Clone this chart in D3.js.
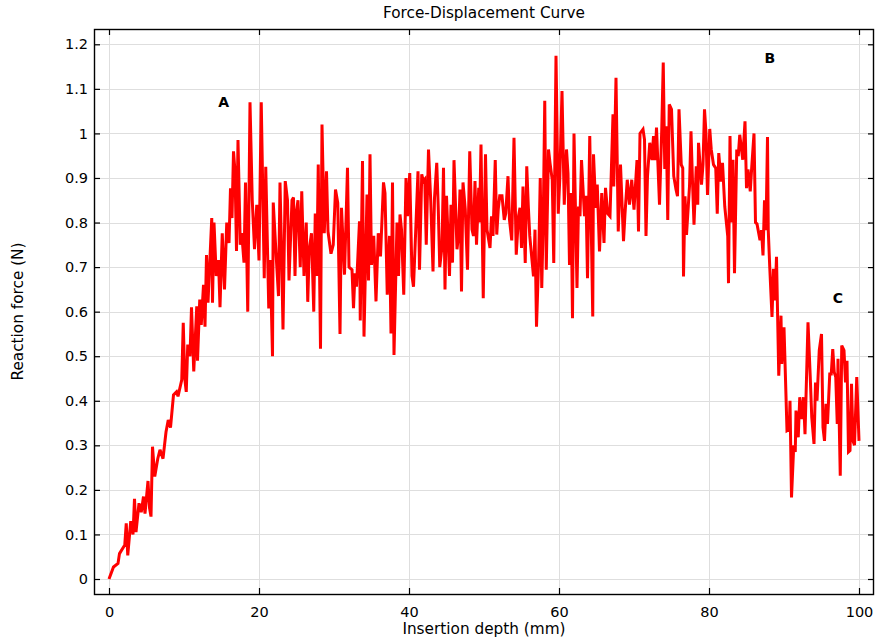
<!DOCTYPE html>
<html><head><meta charset="utf-8">
<script src="https://cdn.jsdelivr.net/npm/d3@7"></script>
<style>
html,body{margin:0;padding:0;background:#fff;}
svg{display:block;}
text{font-family:"DejaVu Sans",sans-serif;fill:#000;}
</style></head>
<body>
<svg id="chart" width="877" height="642"></svg>
<script>
// ---- data (insertion depth mm, reaction force N) ----
const riseSegment = [[0,0],[0.6,0.027],[1.2,0.035],[1.4,0.057],[2.1,0.076],[2.3,0.125],[2.5,0.053],[2.9,0.13],[3.2,0.1],[3.4,0.18],[3.6,0.105],[4.0,0.17],[4.3,0.15],[4.6,0.185],[4.8,0.147],[5.2,0.22],[5.4,0.16],[5.6,0.14],[5.8,0.297],[6.1,0.23],[6.5,0.27],[6.8,0.29],[7.2,0.27],[7.6,0.33],[7.9,0.357],[8.2,0.34],[8.6,0.413],[9.0,0.42],[9.2,0.41],[9.7,0.447],[9.9,0.575],[10.1,0.45],[10.3,0.42],[10.5,0.526],[10.8,0.5],[11.0,0.61],[11.3,0.466],[11.7,0.612],[11.8,0.49],[12.1,0.627],[12.3,0.57]];
const peakASegment = [[12.6,0.66],[12.8,0.566],[13.0,0.727],[13.2,0.62],[13.7,0.81],[13.8,0.62],[14.0,0.8],[14.3,0.68],[14.6,0.716],[14.8,0.61],[15.1,0.776],[15.4,0.65],[15.7,0.8],[16.0,0.754],[16.2,0.877],[16.4,0.81],[16.6,0.96],[16.8,0.915],[17.0,0.736],[17.2,0.985],[17.5,0.75],[17.7,0.776],[18.0,0.71],[18.2,0.89],[18.5,0.6],[18.8,1.07],[19.1,0.85],[19.4,0.74],[19.7,0.84],[20.0,0.715],[20.3,1.07],[20.7,0.675],[20.9,0.925],[21.3,0.607],[21.5,0.716],[21.8,0.5],[21.9,0.845],[22.3,0.722],[22.6,0.635],[22.8,0.89],[23.0,0.74],[23.2,0.56],[23.5,0.893],[23.8,0.85],[24.0,0.67],[24.4,0.85],[24.6,0.856],[24.8,0.68],[25.0,0.825],[25.2,0.85],[25.5,0.7],[25.7,0.87],[26.0,0.68],[26.3,0.8],[26.5,0.622],[26.7,0.74],[27.0,0.776],[27.3,0.6],[27.5,0.82],[27.7,0.68],[27.9,0.93],[28.2,0.517],[28.4,1.02],[28.7,0.776],[29.0,0.915]];
const plateauSegment1 = [[29.2,0.78],[29.6,0.73],[29.9,0.75],[30.2,0.874],[30.5,0.844],[30.8,0.55],[31.0,0.833],[31.4,0.683],[31.8,0.923],[32.0,0.7],[32.4,0.694],[32.6,0.608],[32.8,0.686],[33.0,0.656],[33.4,0.803],[33.5,0.58],[33.8,0.938],[34.0,0.544],[34.4,0.863],[34.6,0.67],[34.8,0.953],[35.0,0.705],[35.3,0.77],[35.6,0.623],[35.9,0.776],[36.2,0.724],[36.6,0.89],[36.8,0.866],[37.1,0.638],[37.4,0.77],[37.6,0.551],[37.8,0.89],[38.0,0.503],[38.4,0.8],[38.6,0.68],[38.8,0.818],[39.0,0.784],[39.3,0.638],[39.6,0.9],[39.8,0.814],[40.1,0.911],[40.4,0.68],[40.6,0.656],[40.9,0.784],[41.2,0.915],[41.4,0.694],[41.7,0.908],[41.9,0.893],[42.1,0.897],[42.3,0.75],[42.6,0.964],[42.9,0.848],[43.2,0.69],[43.4,0.855],[43.7,0.934],[43.9,0.833],[44.1,0.7],[44.4,0.746]];
const plateauSegment2 = [[44.6,0.923],[44.8,0.65],[45.0,0.86],[45.4,0.68],[45.6,0.84],[45.8,0.71],[46.0,0.94],[46.4,0.74],[46.6,0.77],[46.8,0.874],[47.0,0.645],[47.2,0.89],[47.5,0.83],[47.8,0.694],[48.1,0.96],[48.4,0.784],[48.6,0.77],[48.8,0.893],[49.0,0.75],[49.3,0.878],[49.4,0.8],[49.6,0.975],[49.9,0.63],[50.2,0.953],[50.4,0.784],[50.8,0.743],[51.0,0.814],[51.2,0.77],[51.5,0.94],[51.7,0.773],[51.9,0.83],[52.1,0.86],[52.4,0.86],[52.7,0.806],[52.9,0.82],[53.2,0.904],[53.4,0.806],[53.7,0.76],[54.0,0.99],[54.3,0.728],[54.6,0.814],[54.8,0.833],[55.0,0.743],[55.2,0.881],[55.5,0.709],[55.7,0.926],[55.9,0.84],[56.1,0.77],[56.6,0.679],[56.8,0.784],[57.0,0.566],[57.3,0.724],[57.5,0.9],[57.7,0.653],[57.9,0.806]];
const plateauSegment3 = [[58.1,1.073],[58.3,0.694],[58.6,0.964],[58.8,0.934],[59.1,0.896],[59.3,0.709],[59.6,1.174],[59.9,0.82],[60.1,0.896],[60.4,1.095],[60.7,0.84],[61.0,0.964],[61.2,0.91],[61.4,0.705],[61.6,0.866],[61.8,0.585],[62.0,1.0],[62.4,0.653],[62.6,0.836],[62.8,0.814],[63.0,0.94],[63.4,0.814],[63.6,0.86],[63.8,0.675],[64.1,0.994],[64.5,0.589],[64.6,0.953],[64.9,0.833],[65.1,0.885],[65.4,0.735],[65.7,0.866],[66.0,0.754],[66.2,0.878],[66.5,0.82],[66.8,0.814],[67.2,1.043],[67.3,0.881],[67.6,1.125],[67.9,0.78],[68.2,0.93],[68.6,0.758],[68.8,0.82],[69.1,0.896],[69.4,0.84],[69.7,0.896],[70.0,0.829],[70.4,0.94],[70.6,0.78],[70.8,1.0],[71.2,1.009],[71.4,0.986],[71.6,0.77],[71.8,0.904],[72.1,0.979],[72.4,0.94],[72.6,0.994],[72.8,0.94],[73.0,1.013],[73.4,0.84],[73.7,1.009],[73.9,1.159],[74.1,0.92]];
const peakBSegment = [[74.3,1.016],[74.5,0.806],[74.7,1.065],[75.0,1.054],[75.3,0.904],[75.6,0.874],[75.8,0.859],[76.0,1.054],[76.3,0.93],[76.5,0.922],[76.6,0.679],[76.8,0.859],[77.0,0.772],[77.4,0.881],[77.6,1.005],[77.8,0.892],[78.0,0.795],[78.3,0.926],[78.5,0.84],[78.6,0.979],[79.0,0.885],[79.2,0.93],[79.4,1.054],[79.6,1.0],[79.8,0.862],[80.1,1.01],[80.3,0.964],[80.6,0.93],[80.9,0.922],[81.1,0.82],[81.3,0.956],[81.6,0.892],[81.8,0.934],[82.1,0.836],[82.5,0.769],[82.6,0.664],[82.8,0.994],[83.0,0.8],[83.2,0.941],[83.4,0.686],[83.7,0.964],[83.9,0.949],[84.1,0.997],[84.5,0.941],[84.8,1.027],[85.0,0.877],[85.2,0.919],[85.5,0.87]];
const dropSegment = [[85.7,0.925],[86.0,1.0],[86.2,0.8],[86.4,0.797],[86.8,0.76],[87.0,0.783],[87.2,0.726],[87.4,0.85],[87.6,0.783],[87.8,0.992],[87.9,0.783],[88.1,0.7],[88.4,0.588],[88.6,0.696],[88.8,0.625],[89.0,0.723],[89.3,0.456],[89.6,0.591],[89.7,0.483],[90.0,0.565],[90.4,0.333],[90.7,0.336],[90.8,0.4],[91.0,0.183],[91.3,0.3],[91.5,0.285],[91.6,0.378],[91.9,0.318],[92.1,0.408],[92.4,0.359],[92.6,0.408],[92.8,0.325],[93.2,0.576],[93.5,0.453],[93.7,0.363],[94.0,0.303],[94.2,0.441],[94.4,0.4],[94.7,0.513],[95.0,0.55],[95.2,0.34],[95.4,0.31],[95.6,0.393],[95.8,0.348],[96.1,0.46],[96.3,0.46],[96.5,0.516],[96.7,0.464],[96.9,0.453],[97.1,0.348],[97.2,0.494],[97.5,0.232],[97.7,0.524],[98.0,0.513],[98.2,0.441],[98.4,0.49],[98.6,0.285],[98.8,0.288],[99.0,0.438],[99.2,0.31],[99.4,0.3],[99.7,0.453],[100.0,0.31]];

const xTicks = [0, 20, 40, 60, 80, 100];
const yTicks = [0, 0.1, 0.2, 0.3, 0.4, 0.5, 0.6, 0.7, 0.8, 0.9, 1, 1.1, 1.2];
const annotations = [["A", 15.3, 1.07], ["B", 88.1, 1.17], ["C", 97.2, 0.63]];
const titleText = "Force-Displacement Curve";
const xLabel = "Insertion depth (mm)";
const yLabel = "Reaction force (N)";

const series = [].concat(riseSegment, peakASegment, plateauSegment1, plateauSegment2, plateauSegment3, peakBSegment, dropSegment);

// ---- layout ----
const L = 94, R = 874, T = 29, B = 594;
const svg = d3.select("#chart");
const x = d3.scaleLinear().domain([-2, 102]).range([L, R]);
const y = d3.scaleLinear().domain([-0.03366, 1.23433]).range([B, T]);

// grid
const grid = svg.append("g").attr("stroke", "#dedede").attr("stroke-width", 1).attr("shape-rendering", "crispEdges");
grid.selectAll(".gx").data(xTicks).join("line")
  .attr("x1", d => Math.round(x(d)) + 0.5).attr("x2", d => Math.round(x(d)) + 0.5)
  .attr("y1", T).attr("y2", B);
grid.selectAll(".gy").data(yTicks).join("line")
  .attr("y1", d => Math.round(y(d)) + 0.5).attr("y2", d => Math.round(y(d)) + 0.5)
  .attr("x1", L).attr("x2", R);

// line
svg.append("clipPath").attr("id", "clip").append("rect")
  .attr("x", L).attr("y", T).attr("width", R - L).attr("height", B - T);
const line = d3.line().x(d => x(d[0])).y(d => y(d[1]));
svg.append("path").datum(series)
  .attr("clip-path", "url(#clip)")
  .attr("fill", "none").attr("stroke", "#ff0000")
  .attr("stroke-width", 3).attr("stroke-linejoin", "miter").attr("stroke-miterlimit", 3)
  .attr("d", line);

// axes (ticks inside on all sides)
const tickLen = 6;
const axB = svg.append("g").attr("transform", `translate(0,${B})`)
  .call(d3.axisBottom(x).tickValues(xTicks).tickSizeInner(-tickLen).tickSizeOuter(0).tickPadding(10).tickFormat(d3.format("d")));
const axT = svg.append("g").attr("transform", `translate(0,${T})`)
  .call(d3.axisTop(x).tickValues(xTicks).tickSizeInner(-tickLen).tickSizeOuter(0).tickFormat(""));
const axL = svg.append("g").attr("transform", `translate(${L},0)`)
  .call(d3.axisLeft(y).tickValues(yTicks).tickSizeInner(-tickLen).tickSizeOuter(0).tickPadding(6).tickFormat(d => d3.format("")(+d.toFixed(1))));
const axR = svg.append("g").attr("transform", `translate(${R},0)`)
  .call(d3.axisRight(y).tickValues(yTicks).tickSizeInner(-tickLen).tickSizeOuter(0).tickFormat(""));
[axB, axT, axL, axR].forEach(g => {
  g.select(".domain").remove();
  g.selectAll("line").attr("stroke", "#000").attr("stroke-width", 1.2);
  g.selectAll("text").attr("font-family", "DejaVu Sans").attr("font-size", 14.5).attr("fill", "#000");
});
axB.selectAll("text").attr("dy", "0.9em");
axL.selectAll("text").attr("x", -6).attr("dx", 0);

// frame
svg.append("rect").attr("x", L + 0.5).attr("y", T + 0.5).attr("width", R - L - 1).attr("height", B - T)
  .attr("fill", "none").attr("stroke", "#000").attr("stroke-width", 1.4);

// titles
svg.append("text").attr("x", (L + R) / 2).attr("y", 18).attr("text-anchor", "middle")
  .attr("font-size", 15.3).text(titleText);
svg.append("text").attr("x", (L + R) / 2).attr("y", 634).attr("text-anchor", "middle")
  .attr("font-size", 15.3).text(xLabel);
svg.append("text").attr("transform", `translate(23,${(T + B) / 2}) rotate(-90)`).attr("text-anchor", "middle")
  .attr("font-size", 15.3).text(yLabel);

// annotations
svg.selectAll(".ann").data(annotations).join("text")
  .attr("x", d => x(d[1])).attr("y", d => y(d[2])).attr("dy", "0.36em")
  .attr("text-anchor", "middle").attr("font-weight", "bold").attr("font-size", 14)
  .text(d => d[0]);
</script>
</body></html>
